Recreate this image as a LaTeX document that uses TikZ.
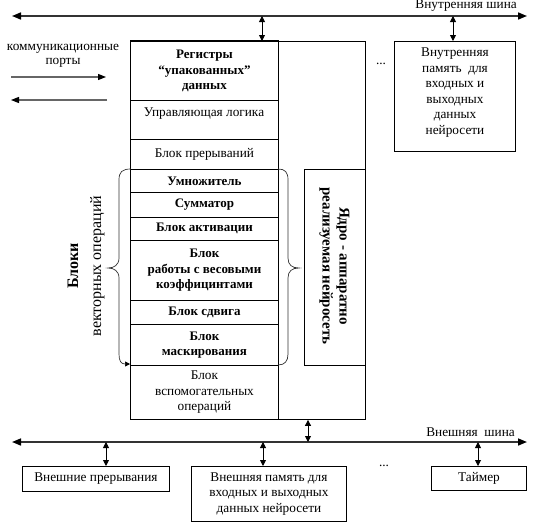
\documentclass[tikz,border=0pt]{standalone}
\usepackage{fontspec}
\setmainfont{Liberation Serif}
\usetikzlibrary{arrows.meta}
\begin{document}
\begin{tikzpicture}[x=1pt,y=-1pt,
  box/.style={draw, line width=0.9pt, inner sep=0pt, anchor=north west, align=center},
  ntxt/.style={font=\fontsize{13.3}{15.5}\selectfont},
  btxt/.style={font=\fontsize{13}{15.5}\selectfont\bfseries},
  plain/.style={inner sep=0pt, align=center},
  bus/.style={line width=1.6pt, black!80, {Triangle[length=9pt,width=7pt,black]}-{Triangle[length=9pt,width=7pt,black]}},
  dbl/.style={line width=0.9pt, {Triangle[length=6pt,width=6pt]}-{Triangle[length=6pt,width=6pt]}},
  port/.style={line width=1.2pt, black!60, -{Triangle[length=8pt,width=6pt,black]}},
  brace/.style={line width=0.7pt, black!80},
]
\useasboundingbox (0,0) rectangle (533,522);

% buses
\coordinate (tbL) at (12,16);
\coordinate (tbR) at (527,16);
\draw[bus] (tbL) -- (tbR);
\node[plain, ntxt, anchor=east] (tbl) at (517,6) {Внутренняя шина};

\coordinate (bbL) at (12,442);
\coordinate (bbR) at (527,442);
\draw[bus] (bbL) -- (bbR);
\node[plain, ntxt, anchor=east] (bbl) at (515,432) {Внешняя~ шина};

% main frame
\node[box, minimum width=235pt, minimum height=378pt] (core) at (130,41) {};

% left column rows
\node[box, btxt, minimum width=148pt, minimum height=59pt] (reg) at (130,41) {Регистры\\“упакованных”\\данных};
\draw[line width=1.8pt] (reg.north west) -- (reg.north east);
\node[box, minimum width=148pt, minimum height=39pt] (ctl) at (130,100) {};
\node[plain, ntxt] (ctltxt) at (204,114) {Управляющая логика};
\node[box, ntxt, minimum width=148pt, minimum height=30pt] (irq) at (130,139) {Блок прерываний};
\node[box, btxt, minimum width=148pt, minimum height=23pt] (mul) at (130,169) {Умножитель};
\node[box, btxt, minimum width=148pt, minimum height=24.5pt] (sum) at (130,192) {Сумматор};
\node[box, btxt, minimum width=148pt, minimum height=23.5pt] (act) at (130,216.5) {Блок активации};
\node[box, btxt, minimum width=148pt, minimum height=60pt] (wgt) at (130,240) {Блок\\работы с весовыми\\коэффицинтами};
\node[box, btxt, minimum width=148pt, minimum height=24pt] (shf) at (130,300) {Блок сдвига};
\node[box, btxt, minimum width=148pt, minimum height=41pt] (msk) at (130,324) {Блок\\маскирования};
\node[box, ntxt, minimum width=148pt, minimum height=54pt] (aux) at (130,365) {Блок\\вспомогательных\\операций};

% inner core box
\node[box, minimum width=61pt, minimum height=196pt] (nn) at (304,169) {};
\node[plain, rotate=-90, font=\fontsize{15}{17}\selectfont\bfseries] (nntxt) at (334.5,266) {Ядро - аппаратно\\реализуемая нейросеть};

% braces
\draw[brace, -{Triangle[length=5pt,width=5pt,black]}] (131,169) .. controls (122,169) and (119,172) .. (119,180) -- (119,258)
  .. controls (119,265) and (114,268) .. (108,268) .. controls (114,268) and (119,271) .. (119,278) -- (119,354)
  .. controls (119,361) and (121,364) .. (130,364);
\draw[brace] (278,169) .. controls (285,169) and (288,172) .. (288,180) -- (288,258)
  .. controls (288,265) and (292,268) .. (299,268) .. controls (292,268) and (288,271) .. (288,278) -- (288,354)
  .. controls (288,361) and (285,365) .. (278,365);
\node[plain, rotate=90, font=\fontsize{16}{23}\selectfont] (vec) at (86,266) {\textbf{Блоки}\\векторных операций};

% internal memory
\node[box, minimum width=121pt, minimum height=110pt] (imem) at (394,41) {};
\node[plain, ntxt] (imemtxt) at (455,92.5) {Внутренняя\\память~ для\\входных и\\выходных\\данных\\нейросети};

% ports
\node[plain, ntxt, font=\fontsize{13.3}{14}\selectfont] (ports) at (63,56) {коммуникационные\\порты};
\coordinate (p1s) at (11,77);
\coordinate (p1e) at (106,77);
\coordinate (p2s) at (107,100);
\coordinate (p2e) at (11,100);
\draw[port] (p1s) -- (p1e);
\draw[port] (p2s) -- (p2e);

% dots
\node[plain, ntxt] (dots1) at (381,64) {...};
\node[plain, ntxt] (dots2) at (384,466) {...};

% external devices
\node[box, ntxt, minimum width=147pt, minimum height=25pt] (eirq) at (22,466) {Внешние прерывания};
\node[box, ntxt, minimum width=155pt, minimum height=55pt] (emem) at (191,466) {Внешняя память для\\входных и выходных\\данных нейросети};
\node[box, ntxt, minimum width=95pt, minimum height=24pt] (tmr) at (431,466) {Таймер};

% vertical arrows
\coordinate (a1) at (262,16);
\coordinate (a2) at (453,16);
\coordinate (a3) at (308,442);
\coordinate (a4) at (106,442);
\coordinate (a5) at (263,442);
\coordinate (a6) at (478,442);
\draw[dbl] (a1) -- (a1 |- core.north);
\draw[dbl] (a2) -- (a2 |- imem.north);
\draw[dbl] (a3 |- core.south) -- (a3);
\draw[dbl] (a4) -- (a4 |- eirq.north);
\draw[dbl] (a5) -- (a5 |- emem.north);
\draw[dbl] (a6) -- (a6 |- tmr.north);
\end{tikzpicture}
\end{document}
